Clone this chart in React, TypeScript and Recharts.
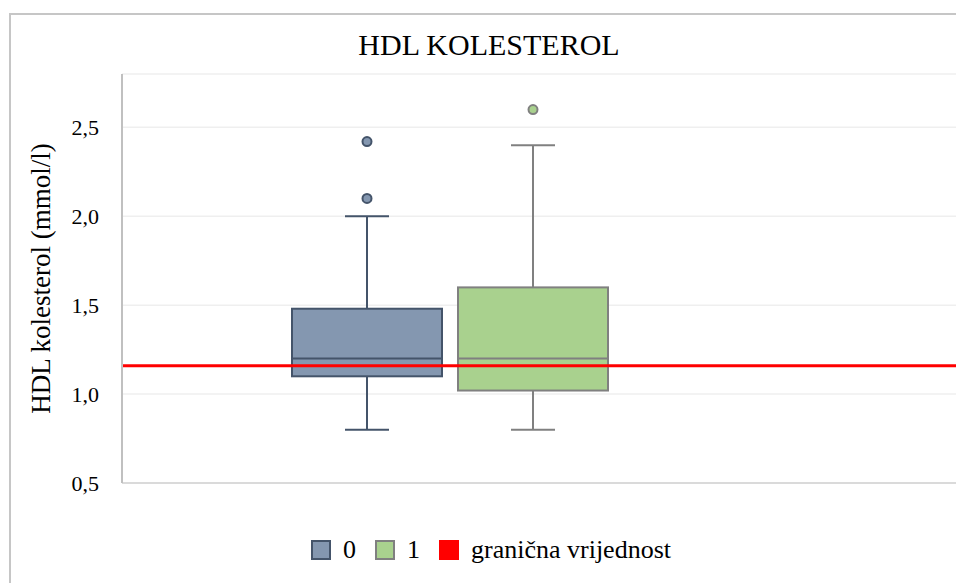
import { ComposedChart, Bar, XAxis, YAxis, CartesianGrid, ReferenceLine, Legend } from 'recharts';

// box plot statistics per group (mmol/l)
const groups = ['0', '1', 'granična vrijednost'];
const whiskerLow = [0.8, 0.8];
const q1 = [1.1, 1.02];
const median = [1.2, 1.2];
const q3 = [1.48, 1.6];
const whiskerHigh = [2.0, 2.4];
const outliers = [[2.1, 2.42], [2.6]];
const threshold = 1.16;
const yTicks = [0.5, 1.0, 1.5, 2.0, 2.5];

const fills = ['#8497b0', '#a9d18e', '#ff0000'];
const strokes = ['#44546a', '#808080', '#ff0000'];
const barSizes = [150, 150, 166];
const FONT = "'Liberation Serif', 'Times New Roman', serif";

const row: any = { name: 'HDL' };
groups.forEach((g, i) => {
  row[`g${i}`] = i < whiskerLow.length ? [whiskerLow[i], whiskerHigh[i]] : [threshold, threshold];
});
const data = [row];

function BoxShape(props: any) {
  const { x, y, width, height, group } = props;
  if (group >= whiskerLow.length || !height) return <g />;
  const lo = whiskerLow[group];
  const hi = whiskerHigh[group];
  const top = Math.min(y, y + height);
  const span = Math.abs(height);
  // pixel position of a value, from the bar's own [lo, hi] geometry
  const py = (v: number) => top + ((hi - v) / (hi - lo)) * span;
  const cx = x + width / 2;
  const cap = 22;
  const stroke = strokes[group];
  const fill = fills[group];
  return (
    <g>
      <line x1={cx} x2={cx} y1={py(hi)} y2={py(q3[group])} stroke={stroke} strokeWidth={2} />
      <line x1={cx} x2={cx} y1={py(q1[group])} y2={py(lo)} stroke={stroke} strokeWidth={2} />
      <line x1={cx - cap} x2={cx + cap} y1={py(hi)} y2={py(hi)} stroke={stroke} strokeWidth={2} />
      <line x1={cx - cap} x2={cx + cap} y1={py(lo)} y2={py(lo)} stroke={stroke} strokeWidth={2} />
      <rect
        x={x}
        y={py(q3[group])}
        width={width}
        height={py(q1[group]) - py(q3[group])}
        fill={fill}
        stroke={stroke}
        strokeWidth={2}
      />
      <line x1={x} x2={x + width} y1={py(median[group])} y2={py(median[group])} stroke={stroke} strokeWidth={2} />
      {outliers[group].map((v, k) => (
        <circle key={k} cx={cx} cy={py(v)} r={4.5} fill={fill} stroke={stroke} strokeWidth={2} />
      ))}
    </g>
  );
}

const renderLegend = () => (
  <div
    style={{
      display: 'flex',
      justifyContent: 'center',
      alignItems: 'center',
      fontFamily: FONT,
      fontSize: 26,
      color: '#000',
    }}
  >
    {groups.map((g, i) => (
      <div key={g} style={{ display: 'flex', alignItems: 'center', marginRight: i < groups.length - 1 ? 19 : 0 }}>
        <span
          style={{
            display: 'inline-block',
            width: 20,
            height: 20,
            boxSizing: 'border-box',
            background: fills[i],
            border: `2px solid ${strokes[i]}`,
            marginRight: 12,
          }}
        />
        <span>{g}</span>
      </div>
    ))}
  </div>
);

export default function App() {
  return (
    <div
      style={{
        position: 'absolute',
        left: 0,
        top: 0,
        width: 956,
        height: 583,
        background: '#fff',
        overflow: 'hidden',
        fontFamily: FONT,
      }}
    >
      {/* chart frame: only top and left edges are visible in the crop */}
      <div style={{ position: 'absolute', left: 9, top: 13, width: 1000, height: 2, background: '#c6c6c6' }} />
      <div style={{ position: 'absolute', left: 9, top: 13, width: 2, height: 600, background: '#c6c6c6' }} />
      <div
        style={{
          position: 'absolute',
          left: 0,
          top: 30,
          width: 978,
          textAlign: 'center',
          fontSize: 30,
          lineHeight: '30px',
          color: '#000',
        }}
      >
        HDL KOLESTEROL
      </div>
      <ComposedChart
        width={956}
        height={583}
        data={data}
        margin={{ top: 74, right: -3, bottom: 99, left: 0 }}
        barGap={16}
        style={{ position: 'absolute', left: 0, top: 0, fontFamily: FONT }}
      >
        <CartesianGrid vertical={false} stroke="#efefef" strokeWidth={1.5} />
        <XAxis dataKey="name" tick={false} tickLine={false} height={1} axisLine={{ stroke: '#dadada', strokeWidth: 2 }} />
        <YAxis
          width={122}
          domain={[0.5, 2.8]}
          ticks={yTicks}
          tickFormatter={(v: number) => v.toFixed(1).replace('.', ',')}
          tick={{ fill: '#000', fontSize: 22, fontFamily: FONT }}
          tickLine={false}
          tickSize={0}
          tickMargin={23}
          axisLine={{ stroke: '#c0c0c0', strokeWidth: 2 }}
          label={{
            value: 'HDL kolesterol (mmol/l)',
            angle: -90,
            position: 'insideLeft',
            offset: 40,
            style: { textAnchor: 'middle', fontSize: 27, fill: '#000', fontFamily: FONT },
          }}
        />
        {groups.map((g, i) => (
          <Bar
            key={g}
            dataKey={`g${i}`}
            name={g}
            fill={fills[i]}
            barSize={barSizes[i]}
            isAnimationActive={false}
            shape={(p: any) => <BoxShape {...p} group={i} />}
          />
        ))}
        <ReferenceLine y={threshold} stroke="#ff0000" strokeWidth={3} />
        <Legend
          content={renderLegend}
          verticalAlign="middle"
          align="center"
          wrapperStyle={{ top: 535, left: 13, width: 956 }}
        />
      </ComposedChart>
    </div>
  );
}
